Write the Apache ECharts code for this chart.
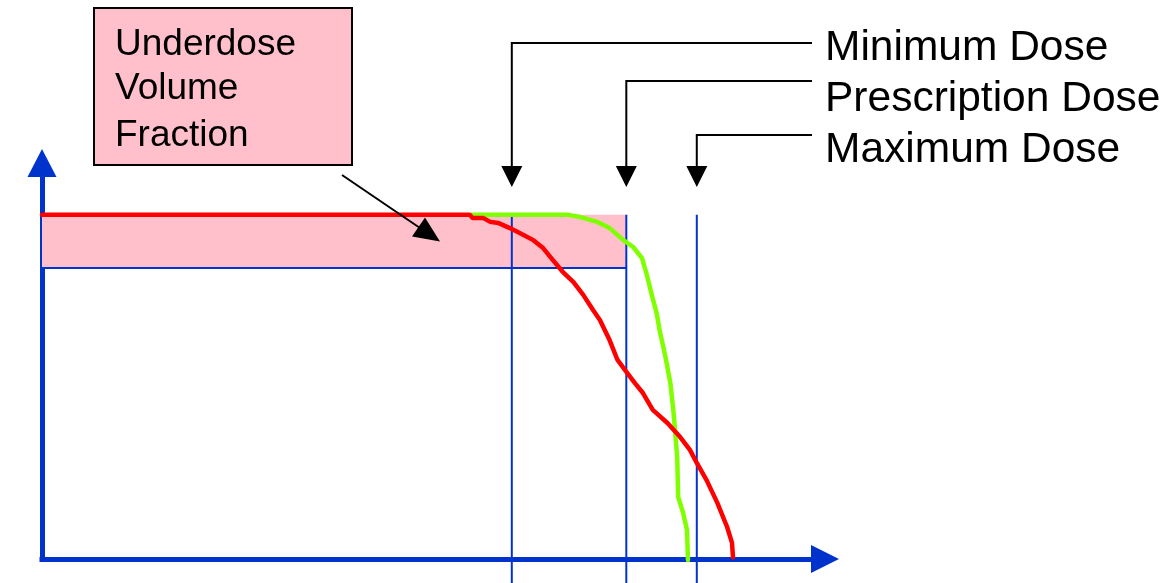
<!DOCTYPE html>
<html>
<head>
<meta charset="utf-8">
<script src="https://cdn.jsdelivr.net/npm/echarts@6/dist/echarts.min.js"></script>
<style>
html,body{margin:0;padding:0;background:#fff;}
#chart{width:1170px;height:583px;}
</style>
</head>
<body>
<div id="chart"></div>
<script>
// ---- data ----
const doseLabels = ['Minimum Dose', 'Prescription Dose', 'Maximum Dose'];
const doseValues = [48.0, 59.7, 66.9];
const fullVolume = 100;
const thresholdVolume = 84.5;
const boxLines = ['Underdose', 'Volume', 'Fraction'];

const redDose = [0, 43.7, 44.0, 45.1, 45.8, 46.6, 47.8, 48.8, 50.2, 51.2, 52.2, 53.2, 54.3, 55.3, 56.3, 57.0, 58.0, 58.8, 59.8, 60.6, 61.4, 62.4, 63.9, 65.2, 66.2, 66.9, 67.9, 69.0, 70.0, 70.5, 70.6];
const redVolume = [100, 100, 99.0, 99.0, 97.9, 97.6, 96.1, 94.7, 92.6, 90.3, 86.8, 83.4, 80.4, 76.7, 72.3, 69.4, 63.5, 57.8, 54.0, 51.0, 48.2, 43.3, 39.5, 35.4, 31.7, 27.9, 22.9, 16.3, 9.3, 4.7, 0.5];

const greenDose = [43.9, 53.6, 55.0, 56.7, 58.0, 59.4, 60.4, 61.3, 61.8, 62.3, 62.8, 63.1, 63.7, 64.2, 64.5, 64.7, 64.9, 65.0, 65.5, 65.9, 66.0];
const greenVolume = [100, 100, 99.3, 97.9, 96.1, 92.6, 90.6, 87.4, 82.5, 76.7, 71.4, 66.5, 58.7, 51.1, 43.3, 36.6, 29.6, 18.0, 13.4, 8.4, -0.3];

// ---- styles ----
const AXIS_BLUE = '#0033CC';
const FONT = "'Liberation Sans', Arial, sans-serif";

const chart = echarts.init(document.getElementById('chart'), null, {renderer: 'canvas'});

const zip = (a, b) => a.map((v, i) => [v, b[i]]);

const series = [];
// threshold line + underdose area
series.push({
  type: 'line', name: 'Threshold', clip: false, symbol: 'none', silent: true, z: 3,
  data: [[-2.86, thresholdVolume], [doseValues[1], thresholdVolume]],
  lineStyle: {color: AXIS_BLUE, width: 2},
  markArea: {
    silent: true,
    itemStyle: {color: '#FFC0CB', opacity: 1},
    data: [[{coord: [0, thresholdVolume]}, {coord: [doseValues[1], fullVolume]}]]
  }
});
// vertical dose lines
doseValues.forEach((d, i) => {
  series.push({
    type: 'line', name: doseLabels[i], clip: false, symbol: 'none', silent: true, z: 3,
    data: [[d, fullVolume], [d, -7.5]],
    lineStyle: {color: AXIS_BLUE, width: 2}
  });
});
series.push({
  type: 'line', name: 'Green DVH', clip: false, symbol: 'none', z: 4,
  data: zip(greenDose, greenVolume),
  lineStyle: {color: '#80FF00', width: 4.5, cap: 'round', join: 'round'}
});
series.push({
  type: 'line', name: 'Red DVH', clip: false, symbol: 'none', z: 5,
  data: zip(redDose, redVolume),
  lineStyle: {color: '#FF0000', width: 4.5, cap: 'round', join: 'round'}
});

chart.setOption({
  animation: false,
  backgroundColor: '#ffffff',
  grid: {left: 42, right: 345, top: 163, bottom: 24, containLabel: false},
  xAxis: {
    type: 'value', min: 0, max: 80,
    axisLine: {show: true, symbol: ['none', 'triangle'], symbolSize: [28, 28],
      lineStyle: {color: AXIS_BLUE, width: 5, cap: 'square'}},
    axisTick: {show: false}, axisLabel: {show: false}, splitLine: {show: false}
  },
  yAxis: {
    type: 'value', min: 0, max: 115,
    axisLine: {show: true, symbol: ['none', 'triangle'], symbolSize: [29, 28],
      lineStyle: {color: AXIS_BLUE, width: 5, cap: 'square'}},
    axisTick: {show: false}, axisLabel: {show: false}, splitLine: {show: false}
  },
  series: series
});

// ---- annotations ----
const graphics = [];
const leaderY = [43, 81, 135];
const labelMidY = [48, 99, 150];
const leaderRight = 812;
const arrowBase = 166, arrowTip = 187, arrowHalf = 10.5;
doseValues.forEach((d, i) => {
  const px = chart.convertToPixel({gridIndex: 0}, [d, 0])[0];
  graphics.push({
    type: 'polyline', silent: true, z: 100,
    shape: {points: [[leaderRight, leaderY[i]], [px, leaderY[i]], [px, arrowBase + 2]]},
    style: {stroke: '#000', lineWidth: 2, fill: null}
  });
  graphics.push({
    type: 'polygon', silent: true, z: 100,
    shape: {points: [[px - arrowHalf, arrowBase], [px + arrowHalf, arrowBase], [px, arrowTip]]},
    style: {fill: '#000'}
  });
  graphics.push({
    type: 'text', silent: true, z: 100, x: 825, y: labelMidY[i],
    style: {text: doseLabels[i], font: '42.5px ' + FONT, fill: '#000', verticalAlign: 'middle', align: 'left'}
  });
});

// underdose box
graphics.push({
  type: 'rect', silent: true, z: 100,
  shape: {x: 94, y: 8, width: 258, height: 157},
  style: {fill: '#FFC0CB', stroke: '#000', lineWidth: 2}
});
const boxMidY = [44.5, 89, 135.5];
boxLines.forEach((t, i) => {
  graphics.push({
    type: 'text', silent: true, z: 101, x: 115, y: boxMidY[i],
    style: {text: t, font: '37px ' + FONT, fill: '#000', verticalAlign: 'middle', align: 'left'}
  });
});
// pointer arrow
graphics.push({
  type: 'line', silent: true, z: 100,
  shape: {x1: 342, y1: 175, x2: 420, y2: 228},
  style: {stroke: '#000', lineWidth: 2}
});
graphics.push({
  type: 'polygon', silent: true, z: 100,
  shape: {points: [[412, 236.5], [425, 217.5], [440, 241.5]]},
  style: {fill: '#000'}
});

chart.setOption({graphic: graphics});
</script>
</body>
</html>
